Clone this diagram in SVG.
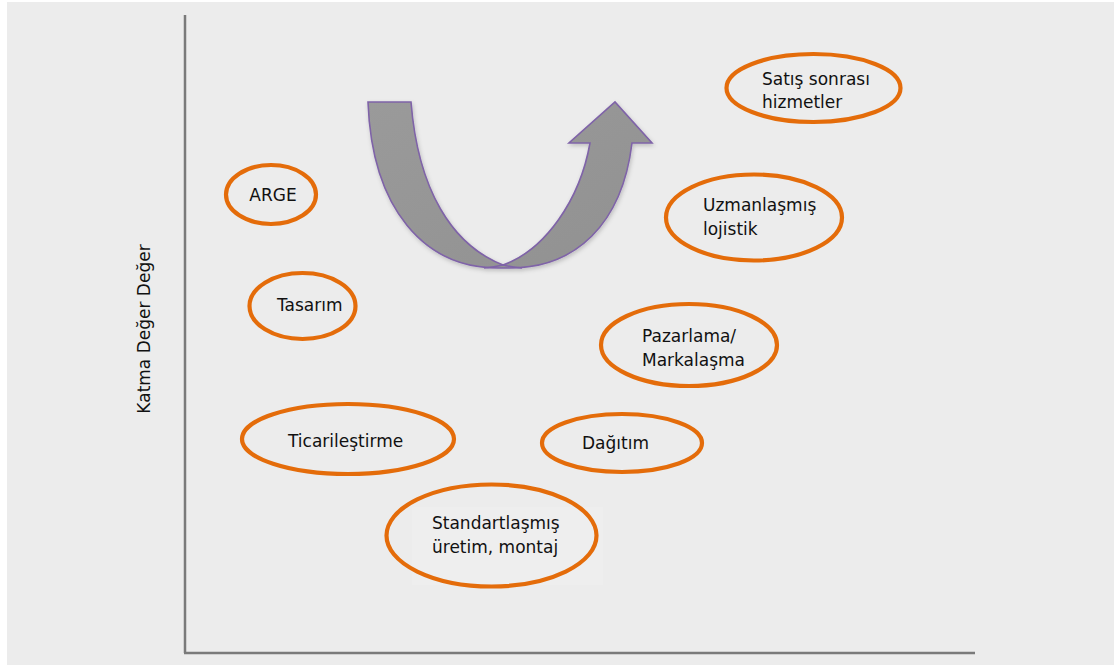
<svg xmlns="http://www.w3.org/2000/svg" width="1114" height="665" viewBox="0 0 1114 665">
<style>
.node ellipse{fill:none;stroke:#e46c0a;stroke-width:4.2}
.lbl{font-family:"DejaVu Sans","Liberation Sans",sans-serif;font-size:17px;fill:#111}
.axis{stroke:#7a7a7a;stroke-width:2.5;fill:none}
</style>
<defs>
<linearGradient id="ug" x1="0" y1="0" x2="1" y2="1">
<stop offset="0" stop-color="#9a9a9a"/>
<stop offset="1" stop-color="#919191"/>
</linearGradient>
<filter id="soft" x="-10%" y="-10%" width="120%" height="120%">
<feGaussianBlur in="SourceAlpha" stdDeviation="2"/>
<feOffset dx="1" dy="2" result="b"/>
<feFlood flood-color="#000" flood-opacity="0.2"/>
<feComposite in2="b" operator="in"/>
<feMerge><feMergeNode/><feMergeNode in="SourceGraphic"/></feMerge>
</filter>
</defs>
<rect x="0" y="0" width="1114" height="665" fill="#ffffff"/>
<rect x="7" y="2" width="1107" height="663" fill="#ececec"/>
<g id="axes">
<line class="axis" x1="185" y1="15" x2="185" y2="653"/>
<line class="axis" x1="184" y1="653" x2="975" y2="653"/>
<text class="lbl" transform="translate(150,329) rotate(-90)" text-anchor="middle">Katma Değer Değer</text>
</g>
<g id="connectors">
<g id="u-arrow" filter="url(#soft)">
<path d="M368,102 L411,102 C418,190 452,245 503,265 C545,250 580,200 590,143 L569,143 L615,102 L652,143 L632,143 C622,225 575,268 510,268 L498,268 C425,268 372,210 368,102 Z" fill="url(#ug)" stroke="#7f63a8" stroke-width="1.6" stroke-linejoin="miter"/>
<path d="M503,265 Q512,267 522,268 M503,265 Q494,267 484,268" fill="none" stroke="#7f63a8" stroke-width="1.4"/>
</g>
</g>
<g id="n-arge" class="node">
<ellipse cx="271" cy="194.5" rx="45" ry="29.5"/>
<text class="lbl" x="273" y="201" text-anchor="middle">ARGE</text>
</g>
<g id="n-tasarim" class="node">
<ellipse cx="302.5" cy="306" rx="53" ry="33"/>
<text class="lbl" x="277" y="311">Tasarım</text>
</g>
<g id="n-satis" class="node">
<ellipse cx="813.5" cy="88" rx="87" ry="34"/>
<text class="lbl" x="762" y="85">Satış sonrası</text>
<text class="lbl" x="762" y="108">hizmetler</text>
</g>
<g id="n-uzman" class="node">
<ellipse cx="754" cy="217.5" rx="88" ry="43"/>
<text class="lbl" x="703" y="211">Uzmanlaşmış</text>
<text class="lbl" x="703" y="235">lojistik</text>
</g>
<g id="n-pazar" class="node">
<ellipse cx="689" cy="345" rx="88" ry="41"/>
<text class="lbl" x="642" y="342">Pazarlama/</text>
<text class="lbl" x="642" y="366">Markalaşma</text>
</g>
<g id="n-ticari" class="node">
<ellipse cx="348" cy="439" rx="106" ry="35"/>
<text class="lbl" x="288" y="447">Ticarileştirme</text>
</g>
<g id="n-dagitim" class="node">
<ellipse cx="622" cy="443" rx="80" ry="29"/>
<text class="lbl" x="582" y="449">Dağıtım</text>
</g>
<g id="n-standart" class="node">
<rect x="412" y="507" width="191" height="78" fill="#eeeeee"/>
<ellipse cx="491.5" cy="535.5" rx="105" ry="51"/>
<text class="lbl" x="432" y="529">Standartlaşmış</text>
<text class="lbl" x="432" y="553">üretim, montaj</text>
</g>
</svg>
